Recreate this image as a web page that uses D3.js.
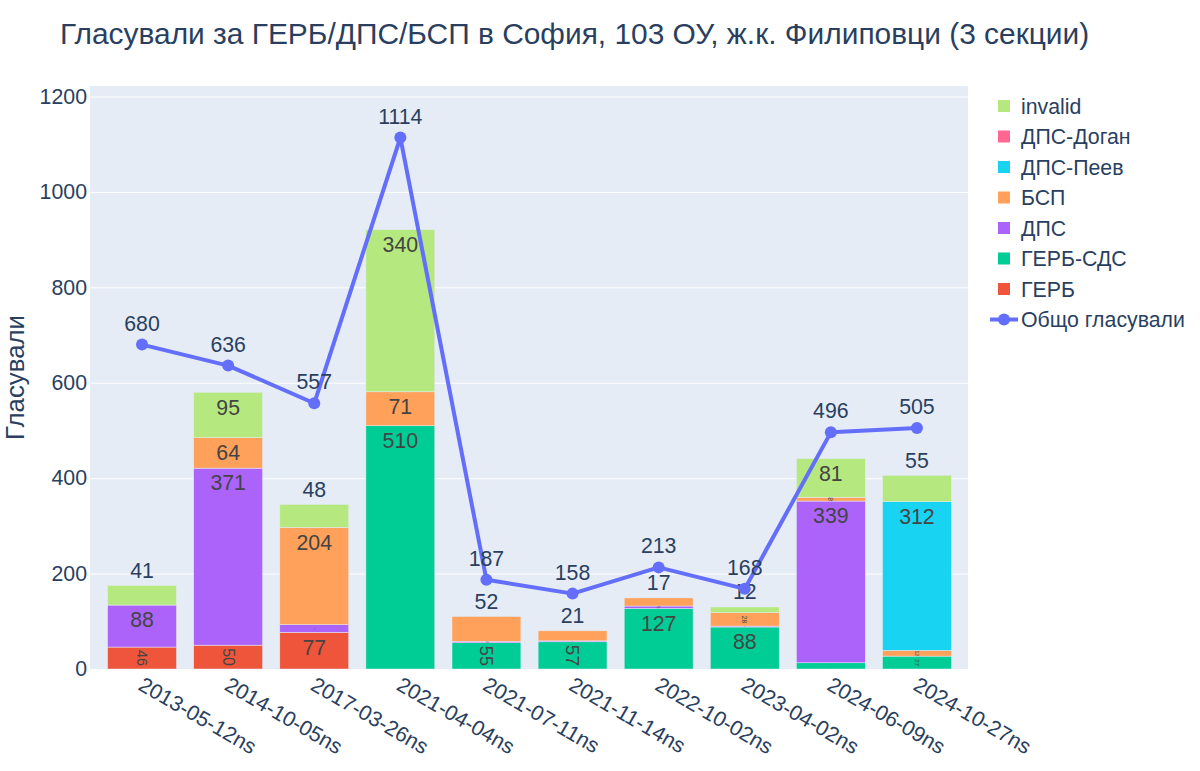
<!DOCTYPE html>
<html>
<head>
<meta charset="utf-8">
<script src="https://cdn.jsdelivr.net/npm/d3@7"></script>
<style>
  html, body { margin: 0; padding: 0; background: #fff; }
  svg { display: block; font-family: "Liberation Sans", Arial, sans-serif; }
</style>
</head>
<body>
<svg id="chart" width="1200" height="771"></svg>
<script>
// --- data (null = party not running) ---
const dates = ["2013-05-12ns", "2014-10-05ns", "2017-03-26ns", "2021-04-04ns", "2021-07-11ns",
  "2021-11-14ns", "2022-10-02ns", "2023-04-02ns", "2024-06-09ns", "2024-10-27ns"];
const gerb     = [46, 50, 77, null, null, null, null, null, null, null];
const gerbSds  = [null, null, null, 510, 55, 57, 127, 88, 13, 27];
const dps      = [88, 371, 16, null, 3, 2, 5, 2, 339, null];
const bsp      = [null, 64, 204, 71, 52, 21, 17, 28, 8, 12];
const dpsPeev  = [null, null, null, null, null, null, null, null, null, 312];
const dpsDogan = [null, null, null, null, null, null, null, null, null, null];
const invalid  = [41, 95, 48, 340, null, null, null, 12, 81, 55];
const total    = [680, 636, 557, 1114, 187, 158, 213, 168, 496, 505];
const yTicks   = [0, 200, 400, 600, 800, 1000, 1200];

// stacking order, bottom to top
const series = [
  { key: "ГЕРБ", values: gerb, color: "#EF553B" },
  { key: "ГЕРБ-СДС", values: gerbSds, color: "#00CC96" },
  { key: "ДПС", values: dps, color: "#AB63FA" },
  { key: "БСП", values: bsp, color: "#FFA15A" },
  { key: "ДПС-Пеев", values: dpsPeev, color: "#19D3F3" },
  { key: "ДПС-Доган", values: dpsDogan, color: "#FF6692" },
  { key: "invalid", values: invalid, color: "#B6E880" }
];
const lineColor = "#636EFA";
const textColor = "#2a3f5f";

const rows = dates.map((d, i) => {
  const r = { date: d, total: total[i] };
  series.forEach((s) => { r[s.key] = s.values[i]; });
  return r;
});

const svg = d3.select("#chart");

// plot area
const plot = { left: 90, right: 968, top: 86, bottom: 669 };
const FONT = 21.3;
const ASC = 0.905, DESC = 0.212;
const TEXTPAD = 3;

const x = d3.scaleBand()
  .domain(dates)
  .range([99, 960])
  .paddingInner(0.2)
  .paddingOuter(0.1);

const y = d3.scaleLinear()
  .domain([0, 1222])
  .range([plot.bottom, plot.top]);

// background
svg.append("rect")
  .attr("x", plot.left).attr("y", plot.top)
  .attr("width", plot.right - plot.left).attr("height", plot.bottom - plot.top)
  .attr("fill", "#E5ECF6");

// y axis with white grid
const yAxis = svg.append("g")
  .attr("transform", `translate(${plot.left},0)`)
  .call(d3.axisLeft(y).tickValues(yTicks).tickFormat(d3.format("d"))
    .tickSize(-(plot.right - plot.left)).tickPadding(3));
yAxis.select(".domain").remove();
yAxis.selectAll(".tick line").attr("stroke", "#fff").attr("stroke-width", 1);
yAxis.selectAll(".tick text")
  .attr("font-size", FONT).attr("fill", textColor)
  .attr("font-family", "Liberation Sans, Arial, sans-serif");

// x axis labels, rotated 30 deg
const xAxis = svg.append("g")
  .attr("transform", `translate(0,${plot.bottom})`)
  .call(d3.axisBottom(x).tickSize(0).tickPadding(0));
xAxis.select(".domain").remove();
xAxis.selectAll(".tick text")
  .attr("font-size", FONT).attr("fill", textColor)
  .attr("font-family", "Liberation Sans, Arial, sans-serif")
  .attr("text-anchor", "start")
  .attr("dy", null)
  .attr("y", 0)
  .attr("transform", "translate(-5,20) rotate(30)");

// stacked bars
const stack = d3.stack()
  .keys(series.map((s) => s.key))
  .value((d, k) => d[k] || 0);
const stacked = stack(rows);

const barLayer = svg.append("g");
const textLayer = svg.append("g");

// which series is the outermost one per date
const topKey = rows.map((r) => {
  let k = null;
  series.forEach((s) => { if (r[s.key]) k = s.key; });
  return k;
});

stacked.forEach((layer, li) => {
  const s = series[li];
  layer.forEach((seg, i) => {
    const v = rows[i][s.key];
    if (!v) return;
    const x0 = x(dates[i]);
    const bw = x.bandwidth();
    const yTop = y(seg[1]);
    const yBot = y(seg[0]);
    barLayer.append("rect")
      .attr("x", x0).attr("y", yTop)
      .attr("width", bw).attr("height", yBot - yTop)
      .attr("fill", s.color)
      .attr("stroke", "#E5ECF6").attr("stroke-width", 0.5);

    // label, plotly-like "auto" placement
    const t = textLayer.append("text")
      .attr("font-size", FONT)
      .attr("text-anchor", "middle")
      .attr("y", ((ASC - DESC) / 2) * FONT)
      .text(v);
    const tw = t.node().getComputedTextLength();
    const th = (ASC + DESC) * FONT;
    let lx = bw, ly = yBot - yTop;
    const pad = (lx > 2 * TEXTPAD && ly > 2 * TEXTPAD) ? TEXTPAD : 0;
    lx -= 2 * pad; ly -= 2 * pad;
    const fits = (tw <= lx && th <= ly) || (tw <= ly && th <= lx);
    const cx = x0 + bw / 2;
    if (topKey[i] === s.key && !fits) {
      t.attr("fill", textColor)
        .attr("transform", `translate(${cx},${yTop - TEXTPAD - th / 2})`);
      return;
    }
    let rotate = false;
    if (!(tw <= lx && th <= ly) && (!(tw > ly || th > lx) || ((tw < th) !== (lx < ly)))) rotate = true;
    const bx = rotate ? th : tw, by = rotate ? tw : th;
    const sc = Math.max(0.05, Math.min(1, lx / bx, ly / by));
    const cy = yTop + pad + (by * sc) / 2;
    t.attr("fill", "#444")
      .attr("transform", `translate(${cx},${cy}) rotate(${rotate ? 90 : 0}) scale(${sc})`);
  });
});

// total line
const line = d3.line()
  .x((d) => x(d.date) + x.bandwidth() / 2)
  .y((d) => y(d.total));
const lineLayer = svg.append("g");
lineLayer.append("path")
  .datum(rows)
  .attr("d", line)
  .attr("fill", "none")
  .attr("stroke", lineColor)
  .attr("stroke-width", 4)
  .attr("stroke-linejoin", "round");
lineLayer.selectAll("circle")
  .data(rows)
  .join("circle")
  .attr("cx", (d) => x(d.date) + x.bandwidth() / 2)
  .attr("cy", (d) => y(d.total))
  .attr("r", 6)
  .attr("fill", lineColor);
lineLayer.selectAll("text")
  .data(rows)
  .join("text")
  .attr("x", (d) => x(d.date) + x.bandwidth() / 2)
  .attr("y", (d) => y(d.total) - 14)
  .attr("text-anchor", "middle")
  .attr("font-size", FONT)
  .attr("fill", textColor)
  .text((d) => d.total);

// title
svg.append("text")
  .attr("x", 60).attr("y", 44)
  .attr("font-size", 29.9)
  .attr("fill", textColor)
  .text("Гласували за ГЕРБ/ДПС/БСП в София, 103 ОУ, ж.к. Филиповци (3 секции)");

// y axis title
svg.append("text")
  .attr("transform", `translate(24,${(plot.top + plot.bottom) / 2}) rotate(-90)`)
  .attr("text-anchor", "middle")
  .attr("font-size", 25.8)
  .attr("fill", textColor)
  .text("Гласували");

// legend (bars reversed, then the line)
const legend = svg.append("g");
const legendItems = series.slice().reverse();
legendItems.forEach((s, i) => {
  const cy = 106 + i * 30.5;
  legend.append("rect")
    .attr("x", 998).attr("y", cy - 6)
    .attr("width", 12).attr("height", 12)
    .attr("fill", s.color);
  legend.append("text")
    .attr("x", 1021).attr("y", cy + 7.5)
    .attr("font-size", FONT).attr("fill", textColor)
    .text(s.key);
});
const ly0 = 106 + legendItems.length * 30.5;
legend.append("line")
  .attr("x1", 990).attr("x2", 1018)
  .attr("y1", ly0).attr("y2", ly0)
  .attr("stroke", lineColor).attr("stroke-width", 4);
legend.append("circle")
  .attr("cx", 1004).attr("cy", ly0).attr("r", 6).attr("fill", lineColor);
legend.append("text")
  .attr("x", 1021).attr("y", ly0 + 7.5)
  .attr("font-size", FONT).attr("fill", textColor)
  .text("Общо гласували");
</script>
</body>
</html>
